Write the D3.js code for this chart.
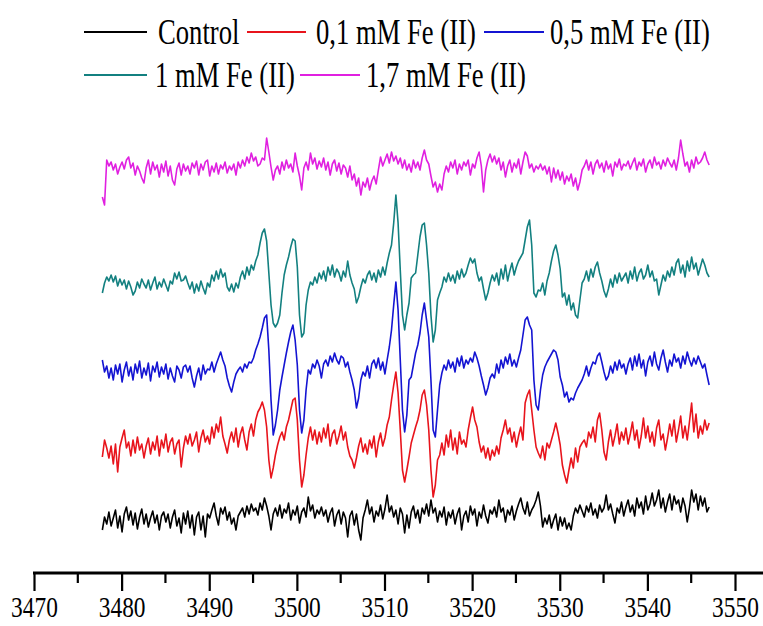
<!DOCTYPE html>
<html><head><meta charset="utf-8">
<script src="https://cdn.jsdelivr.net/npm/d3@7"></script>
<style>html,body{margin:0;padding:0;background:#fff;}</style>
</head><body><svg id="c" width="763" height="626"></svg>
<script>
// ---- data (EPR spectra, field in G, intensity in a.u.) ----
const fieldStart = 3477.8, fieldStep = 0.25;
const seriesNames = ["Control", "0,1 mM Fe (II)", "0,5 mM Fe (II)", "1 mM Fe (II)", "1,7 mM Fe (II)"];
const seriesColors = ["#000000", "#e8141c", "#1414d2", "#138080", "#e020e0"];
const offsets = [53, 123, 203, 288, 401];
const majorTicks = [3470, 3480, 3490, 3500, 3510, 3520, 3530, 3540, 3550];
const minorTicks = [3475, 3485, 3495, 3505, 3515, 3525, 3535, 3545];

const control = [
-10,3,-4,8,-6,2,10,-8,4,-12,6,13,0,9,-5,7,-9,3,11,-4,
6,-7,2,9,-3,5,-10,4,8,-2,6,-8,3,10,-6,2,-13,7,-4,9,
-8,5,-15,3,8,-10,4,-17,6,2,10,17,4,-5,12,6,13,0,8,-4,
2,-10,4,8,12,3,14,6,16,9,12,5,17,10,22,14,4,-10,6,12,
4,15,2,11,7,17,0,10,5,14,-3,8,12,3,23,9,15,2,10,6,
13,4,10,-2,7,12,-6,5,10,-4,8,2,-17,4,9,-5,6,-10,-20,2,
10,20,6,13,-2,9,4,15,1,11,25,8,14,3,10,-4,12,6,-13,5,
-8,8,14,2,10,-3,12,6,16,4,20,7,12,-2,9,3,13,-5,8,2,
10,-4,6,12,-10,4,9,-2,14,5,11,-6,8,2,15,4,-3,10,6,13,
3,20,8,12,-2,10,5,14,0,9,16,22,12,6,18,4,10,14,20,28,
14,-7,2,-4,5,-8,0,6,-10,3,-6,2,-9,-3,-10,4,12,7,15,9,
3,14,8,17,5,11,2,15,8,12,25,10,16,6,-3,12,7,18,4,13,
20,8,15,4,22,12,18,6,24,10,16,27,14,20,30,12,22,8,18,26,
10,24,16,20,8,22,14,-2,12,30,18,26,10,24,14,22,8,13];

const fe01 = [
-7,10,2,-8,4,-14,6,-22,3,12,20,2,8,-6,10,-3,13,0,6,-8,
4,12,-4,8,0,14,-6,10,2,16,-2,8,12,-4,6,10,-17,2,14,6,
16,4,10,18,-2,12,20,8,14,6,23,12,26,18,33,14,6,-3,10,18,
8,22,3,16,23,10,0,18,26,14,30,38,42,48,40,23,-10,-28,-18,-5,
5,13,18,10,23,30,40,50,52,30,-10,-37,-25,-5,12,23,10,20,6,18,
8,22,12,26,4,16,20,6,14,24,10,18,3,-6,-10,-18,-8,4,12,-2,
6,-4,10,2,14,-7,8,17,4,12,25,33,50,65,78,57,20,-20,-32,-20,
-7,7,15,23,30,40,55,60,45,20,-20,-47,-35,-10,-5,7,-5,15,3,20,
0,12,-4,18,6,10,3,20,32,43,30,23,8,-2,4,-8,2,-10,0,-6,
4,-4,12,20,30,16,22,8,18,3,14,23,10,47,55,60,40,20,3,-3,
-8,4,-10,7,2,10,18,27,17,5,-15,-25,-33,-20,-8,-18,2,-12,3,7,
10,3,18,12,23,8,30,37,20,-2,-10,8,20,4,14,26,6,18,10,22,
6,16,28,10,20,2,14,32,12,24,8,18,4,22,30,10,16,0,12,26,
14,30,8,20,34,12,24,10,28,47,18,36,12,24,16,30,20,27];

const fe05 = [
10,-2,4,-8,2,-10,5,-4,6,-12,0,8,-6,3,-10,6,-3,9,-8,2,
-5,7,-11,4,-2,8,-7,3,-4,6,-9,2,-6,-12,4,0,-8,3,5,-2,
4,-8,-17,-6,2,-10,5,-4,1,0,8,-2,6,12,18,10,4,-8,-16,-22,
-12,-4,0,3,-2,6,2,8,7,12,20,26,33,42,52,55,20,-30,-65,-55,
-40,-20,-7,5,17,28,38,45,30,5,-40,-63,-50,-20,0,-4,6,2,10,4,
-8,6,10,4,14,8,17,10,6,14,12,3,8,-2,-10,-20,-38,-28,-10,-2,
-6,4,-8,6,10,2,12,0,8,-4,10,23,40,65,88,60,10,-40,-62,-45,
-10,-7,5,17,25,37,55,67,50,33,-10,-60,-67,-40,-15,-3,5,0,10,2,
8,-2,12,4,14,2,10,6,12,8,18,12,4,-6,-15,-25,-18,-8,-4,-8,
6,-3,10,2,13,6,16,4,10,3,12,20,35,50,53,45,40,-10,-35,-40,
-20,-5,3,8,12,16,20,18,10,-7,-15,-27,-22,-32,-28,-30,-23,-18,-14,-10,
-4,4,-6,2,8,6,14,17,8,-2,-10,-6,4,-3,8,0,10,2,6,-4,
6,12,0,14,4,16,2,10,-6,8,14,4,18,6,0,12,20,8,-2,10,
4,16,8,12,2,14,6,18,10,4,12,6,14,8,2,6,-5,-15];

const fe1 = [
-8,2,8,4,10,3,9,-1,6,0,5,-4,4,-2,-10,-6,3,-3,6,1,
-3,5,-5,2,8,-4,3,-2,6,0,-6,4,1,12,6,13,4,5,9,2,
-4,3,-8,1,-6,4,-3,-9,2,-2,10,4,14,6,16,8,12,-2,-6,1,
-7,2,-3,8,14,6,18,10,20,15,24,30,42,52,56,44,12,-20,-38,-42,
-38,-30,-8,10,20,28,38,46,44,18,-30,-52,-48,-20,-5,3,0,8,2,12,
6,14,4,18,10,20,8,16,12,4,14,8,24,10,2,-4,-18,-12,-2,6,
2,10,14,5,12,3,15,8,18,10,22,32,40,62,90,62,15,-30,-45,-30,
-18,7,10,12,30,48,60,62,40,12,-30,-57,-45,-15,-8,-2,8,3,12,4,
10,2,14,6,16,8,12,20,27,22,26,12,4,8,-4,-15,-8,2,10,4,
12,0,16,6,20,4,14,22,10,18,24,28,32,45,58,65,40,-8,-12,-5,
-6,2,-10,4,12,24,34,40,30,16,-12,-8,-20,-10,-25,-18,-30,-33,-15,2,
6,14,4,16,8,18,23,12,4,-6,-12,-4,6,-2,10,2,12,4,8,12,
2,14,6,18,4,12,16,6,10,20,8,14,4,6,-10,0,10,4,14,8,
18,10,22,26,12,20,8,24,14,28,16,22,10,18,26,20,12,8];

const fe17 = [
-25,-33,12,6,10,2,8,-2,5,10,3,12,15,4,9,-3,6,1,-6,-11,
4,12,-2,10,2,7,-5,8,0,11,-4,6,-8,-13,3,9,-3,8,1,6,
-2,9,4,11,-3,8,2,10,12,-4,6,0,9,-2,7,3,10,-1,6,2,
8,-3,10,4,12,6,15,9,19,11,15,6,8,14,12,34,20,5,-8,2,
6,-2,10,2,12,4,8,0,19,6,-4,-18,4,10,2,19,8,14,3,11,
5,14,2,10,-3,8,12,1,9,-2,7,4,-5,6,-8,-2,-14,-6,-23,-10,
-15,-6,-18,-9,-4,-12,2,15,6,12,18,9,20,11,16,8,14,4,12,2,
8,0,12,4,10,2,14,22,12,8,-4,-15,-10,-20,-12,-18,-2,6,0,10,
4,12,-2,8,2,10,6,12,-3,8,4,14,20,6,-20,2,12,18,10,16,
8,14,2,10,-5,6,12,0,9,4,13,-2,10,20,16,4,8,0,6,3,
8,2,6,-2,5,-10,4,-6,2,-8,0,-12,-4,-9,-2,-14,-6,-18,-10,2,
6,12,2,10,-2,8,12,4,9,0,11,3,8,-4,10,5,13,2,8,6,
11,3,9,14,2,10,6,13,0,8,12,4,15,7,10,3,12,6,14,9,
5,12,2,14,32,18,6,10,0,12,4,15,8,10,14,20,12,7];

const seriesValues = [control, fe01, fe05, fe1, fe17];

// ---- drawing ----
const svg = d3.select("#c");
svg.append("rect").attr("width", 763).attr("height", 626).attr("fill", "#fff");

const x = d3.scaleLinear().domain([3470, 3550]).range([34, 735]);
const y = d3.scaleLinear().domain([0, 500]).range([573, 73]);

const line = d3.line()
  .x(d => x(d.f))
  .y(d => y(d.v));

seriesValues.forEach((vals, s) => {
  const pts = vals.map((v, i) => ({ f: fieldStart + i * fieldStep, v: offsets[s] + v }));
  svg.append("path")
    .datum(pts)
    .attr("fill", "none")
    .attr("stroke", seriesColors[s])
    .attr("stroke-width", 1.6)
    .attr("stroke-linejoin", "round")
    .attr("d", line);
});

// axis
const axisY = 573;
const ax = svg.append("g").attr("transform", `translate(0,${axisY})`)
  .call(d3.axisBottom(x).tickValues(majorTicks).tickSize(18).tickSizeOuter(0).tickPadding(5).tickFormat(d3.format("d")));
ax.select(".domain").remove();
ax.selectAll(".tick line").attr("stroke", "#000").attr("stroke-width", 2.2);
ax.selectAll(".tick text")
  .attr("font-family", "'Liberation Serif', 'Times New Roman', serif")
  .attr("font-size", 30)
  .attr("fill", "#000")
  .attr("transform", "scale(0.78,1)");
ax.selectAll(".minor").data(minorTicks).enter().append("line")
  .attr("class", "minor")
  .attr("x1", d => x(d)).attr("x2", d => x(d))
  .attr("y1", 0).attr("y2", 10)
  .attr("stroke", "#000").attr("stroke-width", 2.2);
ax.append("line")
  .attr("x1", x(3470) - 1).attr("x2", 763)
  .attr("y1", 0).attr("y2", 0)
  .attr("stroke", "#000").attr("stroke-width", 3);

// legend
const legendItems = [
  { s: 0, lx1: 84, lx2: 147, tx: 158, row: 0 },
  { s: 1, lx1: 247, lx2: 306, tx: 316, row: 0 },
  { s: 2, lx1: 484, lx2: 544, tx: 550, row: 0 },
  { s: 3, lx1: 84, lx2: 147, tx: 155, row: 1 },
  { s: 4, lx1: 300, lx2: 360, tx: 366, row: 1 }
];
const rowBase = [44, 87];
const lg = svg.append("g");
legendItems.forEach(it => {
  const by = rowBase[it.row];
  lg.append("line")
    .attr("x1", it.lx1).attr("x2", it.lx2)
    .attr("y1", by - 12).attr("y2", by - 12)
    .attr("stroke", seriesColors[it.s]).attr("stroke-width", 2);
  lg.append("text")
    .attr("transform", `translate(${it.tx},${by}) scale(0.74,1)`)
    .attr("font-family", "'Liberation Serif', 'Times New Roman', serif")
    .attr("font-size", 36)
    .attr("fill", "#000")
    .text(seriesNames[it.s]);
});
</script>
</body></html>
